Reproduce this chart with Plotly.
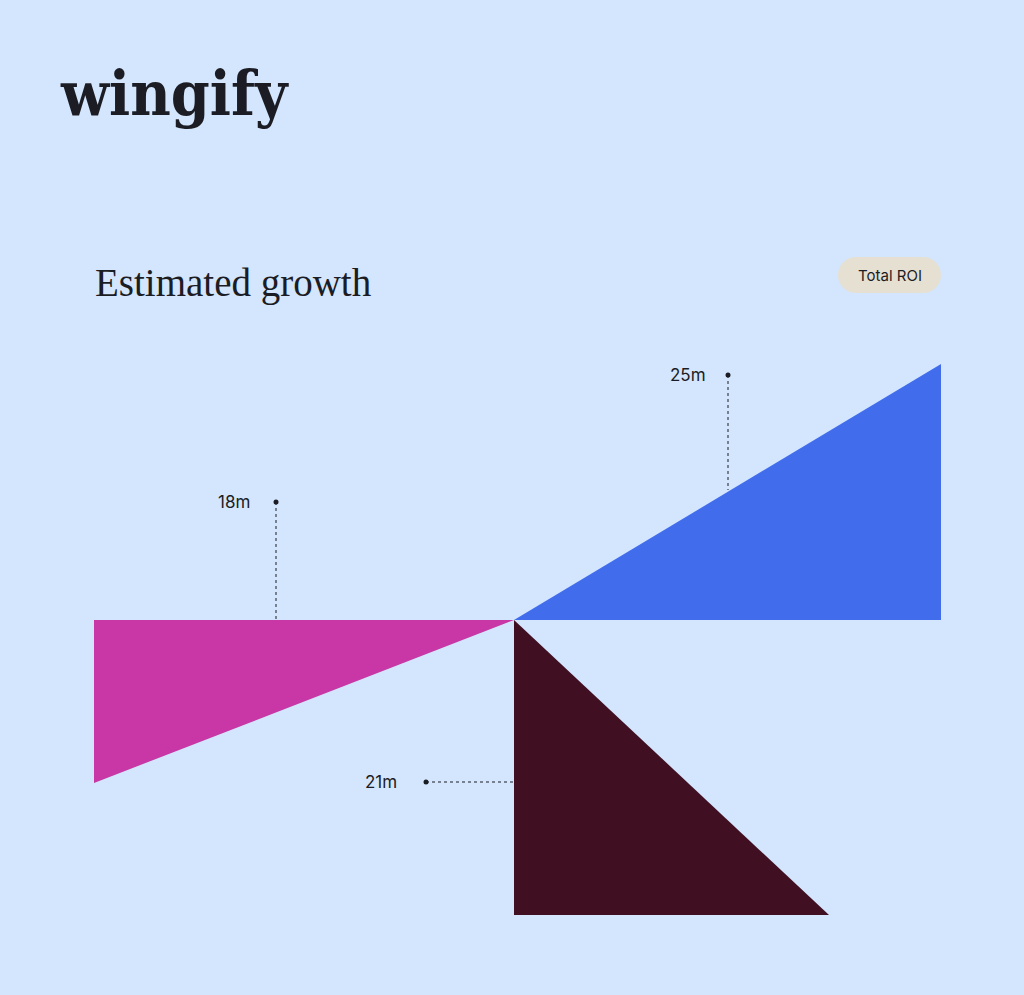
import plotly.graph_objects as go

labels = ["25m", "18m", "21m"]
values = [25, 18, 21]
colors = ["#416ded", "#c837a5", "#410f22"]
# triangle vertices (chart coordinates, origin at pivot)
tri_x = [[0, 427, 427, 0], [-420, 0, -420, -420], [0, 0, 315, 0]]
tri_y = [[0, 256, 0, 0], [0, 0, -163, 0], [0, -295, -295, 0]]
# leader lines: dot position -> end position
lead_x = [[214, 214], [-238, -238], [-88, 0]]
lead_y = [[245, 130], [118, 0], [-162, -162]]
lab_x = [174, -280, -133]
lab_y = [245, 118, -162]

fig = go.Figure()
for i in range(3):
    fig.add_trace(go.Scatter(x=tri_x[i], y=tri_y[i], fill="toself", fillcolor=colors[i],
                             line=dict(width=0), mode="lines", hoverinfo="skip"))
for i in range(3):
    fig.add_trace(go.Scatter(x=lead_x[i], y=lead_y[i], mode="lines",
                             line=dict(color="#1c1c24", width=1, dash="dot")))
    fig.add_trace(go.Scatter(x=[lead_x[i][0]], y=[lead_y[i][0]], mode="markers",
                             marker=dict(color="#1c1c24", size=5)))
    fig.add_annotation(x=lab_x[i], y=lab_y[i], text=labels[i], showarrow=False,
                       xanchor="center", font=dict(family="Inter", size=17, color="#1c1c24"))

fig.add_annotation(x=-456, y=527, text="<b>wingify</b>",
                   showarrow=False, xanchor="left", yanchor="middle",
                   font=dict(family="DejaVu Serif Condensed", size=62, color="#1c1c24"))
fig.add_annotation(x=-421, y=337, text="Estimated growth",
                   showarrow=False, xanchor="left", yanchor="middle",
                   font=dict(family="Liberation Serif", size=39, color="#1c1c24"))
fig.add_shape(type="rect", x0=324 + 18, x1=427 - 18, y0=327, y1=363,
              fillcolor="#e6e0d3", line=dict(width=0), layer="below")
fig.add_shape(type="circle", x0=324, x1=360, y0=327, y1=363,
              fillcolor="#e6e0d3", line=dict(width=0), layer="below")
fig.add_shape(type="circle", x0=391, x1=427, y0=327, y1=363,
              fillcolor="#e6e0d3", line=dict(width=0), layer="below")
fig.add_annotation(x=375.5, y=345, text="Total ROI", xanchor="center",
                   showarrow=False, font=dict(family="Inter", size=15, color="#1c1c24"))

fig.update_layout(width=1024, height=995, margin=dict(l=0, r=0, t=0, b=0),
                  paper_bgcolor="#d3e6fd", plot_bgcolor="#d3e6fd", showlegend=False,
                  xaxis=dict(range=[-514, 510], visible=False, fixedrange=True),
                  yaxis=dict(range=[-375, 620], visible=False, fixedrange=True))
fig.write_html("out.html", config={"displayModeBar": False},
               post_script="document.body.style.margin='0';document.body.style.overflow='hidden';")
